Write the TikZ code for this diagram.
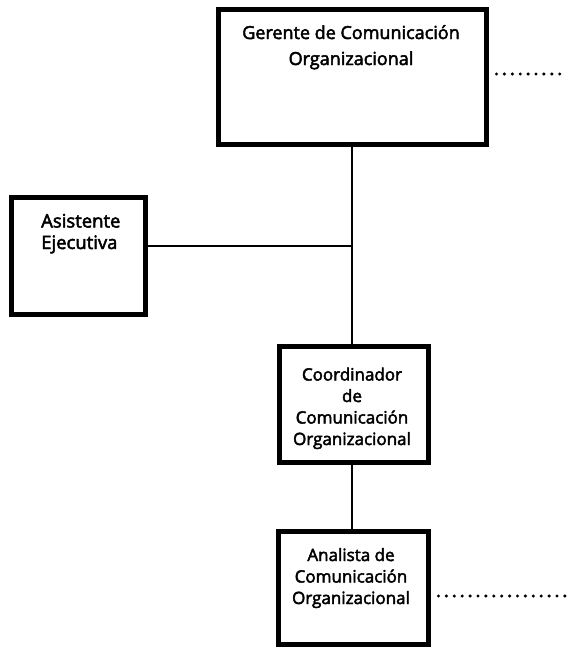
\documentclass[tikz,border=0pt]{standalone}
\usepackage{fontspec}
\setmainfont{Open Sans}[FakeBold=2.6]
\begin{document}
\begin{tikzpicture}[x=1pt,y=-1pt,
  box/.style={draw=black, line width=5pt, fill=white, inner sep=0pt},
  label/.style={inner sep=0pt, anchor=base, align=center, font=\fontsize{17}{21.5}\selectfont},
  conn/.style={draw=black, line width=2.7pt},
  dots/.style={draw=black, line width=3.4pt, line cap=round, dash pattern=on 0pt off 7.9pt}]
\useasboundingbox (0,0) rectangle (569,648);
% boxes
\node[box, minimum width=268pt, minimum height=135pt] (ger) at (352,76.5) {};
\node[box, minimum width=134pt, minimum height=117pt] (asis) at (78,255.5) {};
\node[box, minimum width=149pt, minimum height=116pt] (coord) at (353.5,404) {};
\node[box, minimum width=150pt, minimum height=113pt] (ana) at (353,587.5) {};
% texts (base anchor = baseline of the last line)
\node[label, font=\fontsize{18}{26}\selectfont] (gert) at (351,65) {Gerente de Comunicación\\Organizacional};
\node[label, align=left, anchor=base west, font=\fontsize{18.5}{21.5}\selectfont] (asist) at (41,249) {Asistente\\Ejecutiva};
\node[label] (coordt) at (352,445) {Coordinador\\de\\Comunicación\\Organizacional};
\node[label] (anat) at (351,604) {Analista de\\Comunicación\\Organizacional};
% connectors
\coordinate (j) at (ger.south |- 0,246);
\coordinate (e1) at (566,74);
\coordinate (e2) at (568,596);
\draw[conn] (ger.south) -- (ger.south |- coord.north);
\draw[conn] (asis.east |- j) -- (j);
\draw[conn] (coord.south -| ger.south) -- (ger.south |- ana.north);
\draw[dots] (ger.east |- e1) ++(8,0) -- (e1);
\draw[dots] (ana.east |- e2) ++(8,0) -- (e2);
\end{tikzpicture}
\end{document}
